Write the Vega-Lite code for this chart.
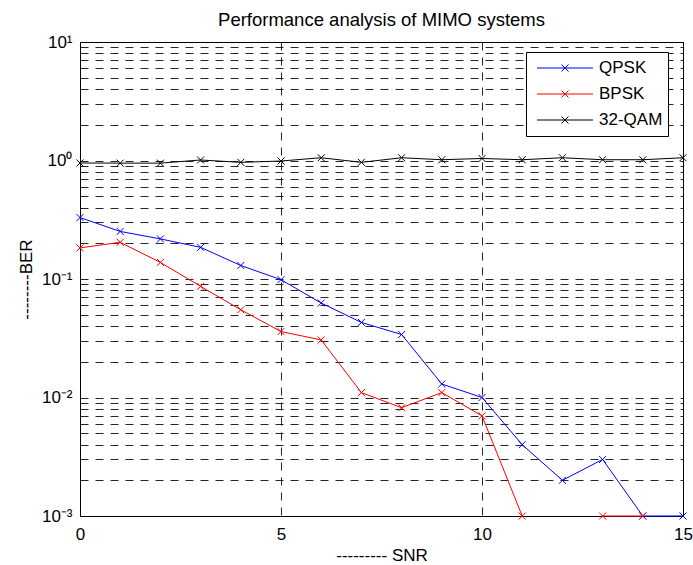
{
  "$schema": "https://vega.github.io/schema/vega-lite/v6.json",
  "autosize": {"type": "none"},
  "padding": {"left": 80, "top": 42, "right": 10, "bottom": 49},
  "width": 603,
  "height": 474,
  "background": "white",
  "title": {
    "text": "Performance analysis of MIMO systems",
    "font": "Liberation Sans",
    "fontSize": 18.5,
    "fontWeight": "normal",
    "color": "black",
    "anchor": "middle",
    "frame": "group",
    "baseline": "alphabetic",
    "offset": -11
  },
  "config": {
    "view": {"stroke": "black", "strokeWidth": 1},
    "axis": {
      "labelFont": "Liberation Sans",
      "titleFont": "Liberation Sans",
      "labelFontSize": 17,
      "titleFontSize": 17,
      "titleFontWeight": "normal",
      "labelColor": "black",
      "titleColor": "black",
      "domain": false,
      "ticks": false,
      "gridColor": "black",
      "gridOpacity": 0.85,
      "gridDash": [8, 7],
      "gridWidth": 1
    }
  },
  "data": {
    "values": [
      {"snr": 0, "scheme": "QPSK", "ber": 0.33},
      {"snr": 1, "scheme": "QPSK", "ber": 0.252},
      {"snr": 2, "scheme": "QPSK", "ber": 0.218},
      {"snr": 3, "scheme": "QPSK", "ber": 0.185},
      {"snr": 4, "scheme": "QPSK", "ber": 0.13},
      {"snr": 5, "scheme": "QPSK", "ber": 0.0987},
      {"snr": 6, "scheme": "QPSK", "ber": 0.0627},
      {"snr": 7, "scheme": "QPSK", "ber": 0.043},
      {"snr": 8, "scheme": "QPSK", "ber": 0.034},
      {"snr": 9, "scheme": "QPSK", "ber": 0.013},
      {"snr": 10, "scheme": "QPSK", "ber": 0.01},
      {"snr": 11, "scheme": "QPSK", "ber": 0.004},
      {"snr": 12, "scheme": "QPSK", "ber": 0.002},
      {"snr": 13, "scheme": "QPSK", "ber": 0.003},
      {"snr": 14, "scheme": "QPSK", "ber": 0.001},
      {"snr": 15, "scheme": "QPSK", "ber": 0.001},
      {"snr": 0, "scheme": "BPSK", "ber": 0.183},
      {"snr": 1, "scheme": "BPSK", "ber": 0.204},
      {"snr": 2, "scheme": "BPSK", "ber": 0.138},
      {"snr": 3, "scheme": "BPSK", "ber": 0.0867},
      {"snr": 4, "scheme": "BPSK", "ber": 0.055},
      {"snr": 5, "scheme": "BPSK", "ber": 0.036},
      {"snr": 6, "scheme": "BPSK", "ber": 0.0306},
      {"snr": 7, "scheme": "BPSK", "ber": 0.011},
      {"snr": 8, "scheme": "BPSK", "ber": 0.0082},
      {"snr": 9, "scheme": "BPSK", "ber": 0.011},
      {"snr": 10, "scheme": "BPSK", "ber": 0.007},
      {"snr": 11, "scheme": "BPSK", "ber": 0.001},
      {"snr": 12, "scheme": "BPSK", "ber": null},
      {"snr": 13, "scheme": "BPSK", "ber": 0.001},
      {"snr": 14, "scheme": "BPSK", "ber": 0.001},
      {"snr": 15, "scheme": "BPSK", "ber": null},
      {"snr": 0, "scheme": "32-QAM", "ber": 0.953},
      {"snr": 1, "scheme": "32-QAM", "ber": 0.95},
      {"snr": 2, "scheme": "32-QAM", "ber": 0.95},
      {"snr": 3, "scheme": "32-QAM", "ber": 1.01},
      {"snr": 4, "scheme": "32-QAM", "ber": 0.965},
      {"snr": 5, "scheme": "32-QAM", "ber": 0.99},
      {"snr": 6, "scheme": "32-QAM", "ber": 1.055},
      {"snr": 7, "scheme": "32-QAM", "ber": 0.965},
      {"snr": 8, "scheme": "32-QAM", "ber": 1.055},
      {"snr": 9, "scheme": "32-QAM", "ber": 1.015},
      {"snr": 10, "scheme": "32-QAM", "ber": 1.04},
      {"snr": 11, "scheme": "32-QAM", "ber": 1.015},
      {"snr": 12, "scheme": "32-QAM", "ber": 1.055},
      {"snr": 13, "scheme": "32-QAM", "ber": 1.015},
      {"snr": 14, "scheme": "32-QAM", "ber": 1.015},
      {"snr": 15, "scheme": "32-QAM", "ber": 1.055}
    ]
  },
  "encoding": {
    "x": {
      "field": "snr",
      "type": "quantitative",
      "scale": {"domain": [0, 15], "nice": false, "zero": false},
      "axis": {
        "title": "--------- SNR",
        "values": [0, 5, 10, 15],
        "labelPadding": 10,
        "titlePadding": 5,
        "labelFlush": false
      }
    },
    "y": {
      "field": "ber",
      "type": "quantitative",
      "scale": {"type": "log", "domain": [0.001, 10], "nice": false},
      "axis": {
        "title": "--------BER",
        "values": [0.001, 0.002, 0.003, 0.004, 0.005, 0.006, 0.007, 0.008, 0.009, 0.01, 0.02, 0.03, 0.04, 0.05, 0.06, 0.07, 0.08, 0.09, 0.1, 0.2, 0.3, 0.4, 0.5, 0.6, 0.7, 0.8, 0.9, 1, 2, 3, 4, 5, 6, 7, 8, 9, 10],
        "labelExpr": "datum.value == 10 ? '10¹' : datum.value == 1 ? '10⁰' : datum.value == 0.1 ? '10⁻¹' : datum.value == 0.01 ? '10⁻²' : datum.value == 0.001 ? '10⁻³' : ''",
        "labelPadding": 8,
        "titlePadding": 6,
        "labelFlush": false,
        "labelOverlap": false
      }
    },
    "color": {
      "field": "scheme",
      "type": "nominal",
      "scale": {"domain": ["QPSK", "BPSK", "32-QAM"], "range": ["#0000ff", "#ff0000", "#000000"]},
      "legend": {
        "title": null,
        "orient": "none",
        "legendX": 446,
        "legendY": 10,
        "padding": 5,
        "strokeColor": "black",
        "fillColor": "white",
        "cornerRadius": 0,
        "symbolType": "M-2.24,0H2.24M-0.28,-0.28L0.28,0.28M-0.28,0.28L0.28,-0.28",
        "symbolSize": 625,
        "symbolStrokeWidth": 1,
        "symbolFillColor": "transparent",
        "symbolOffset": 21,
        "labelOffset": 21,
        "labelFont": "Liberation Sans",
        "labelFontSize": 17,
        "labelColor": "black",
        "clipHeight": 22,
        "rowPadding": 4
      }
    }
  },
  "layer": [
    {
      "mark": {"type": "line", "strokeWidth": 1, "invalid": "break-paths-show-path-domains"}
    },
    {
      "mark": {"type": "point", "shape": "M-1,-1L1,1M-1,1L1,-1", "filled": false, "size": 49, "strokeWidth": 1, "opacity": 1, "invalid": "filter"}
    }
  ]
}
